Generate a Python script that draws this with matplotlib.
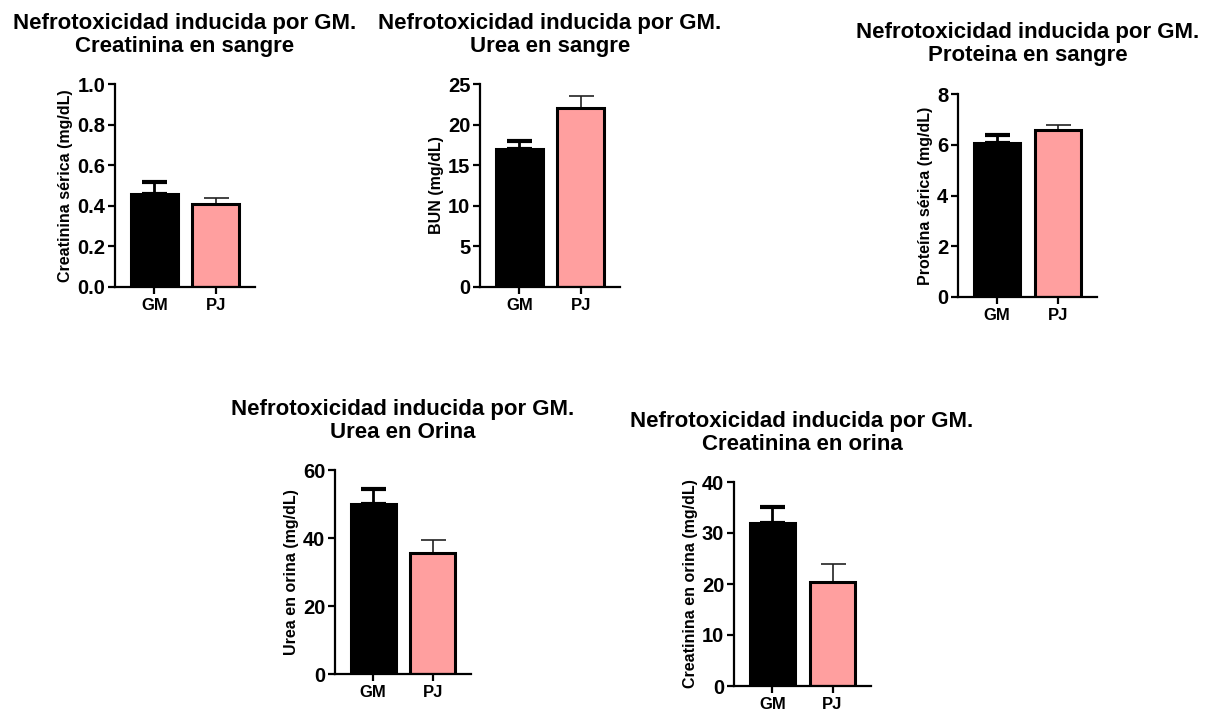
import matplotlib.pyplot as plt
import numpy as np

plt.rcParams['font.family'] = ['Liberation Sans', 'DejaVu Sans']
plt.rcParams['font.weight'] = 'bold'

groups = ['GM', 'PJ']

creat_sangre = [0.46, 0.41]
creat_sangre_err = [0.055, 0.03]

urea_sangre = [17.0, 22.1]
urea_sangre_err = [1.0, 1.4]

prot_sangre = [6.07, 6.57]
prot_sangre_err = [0.30, 0.20]

urea_orina = [50.0, 35.5]
urea_orina_err = [4.5, 4.0]

creat_orina = [32.0, 20.4]
creat_orina_err = [3.1, 3.6]

W, H = 1205, 711
fig = plt.figure(figsize=(W / 100, H / 100), dpi=100)


def px_axes(l, t, r, b):
    return fig.add_axes([l / W, 1 - b / H, (r - l) / W, (b - t) / H])


def title(cx, cy, text):
    fig.text(cx / W, 1 - cy / H, text, ha='center', va='center',
             fontsize=16, fontweight='bold', linespacing=1.1)


def panel(ax, vals, errs, ylabel, yticks, fmt):
    x = np.arange(len(groups))
    colors = ['black', '#ff9f9f']
    ax.bar(x, vals, width=0.76, color=colors, edgecolor='black',
           linewidth=2.2, zorder=2)
    # only the upper half of the error bars, like GraphPad
    ax.errorbar(x[0], vals[0], yerr=[[0], [errs[0]]], fmt='none',
                ecolor='black', elinewidth=2, capsize=9, capthick=3, zorder=1)
    ax.errorbar(x[1], vals[1], yerr=[[0], [errs[1]]], fmt='none',
                ecolor='#222222', elinewidth=1.2, capsize=9, capthick=1.2, zorder=1)
    ax.set_xlim(-0.64, 1.64)
    ax.set_ylim(yticks[0], yticks[-1])
    ax.set_yticks(yticks)
    ax.set_yticklabels([fmt.format(v) for v in yticks], fontsize=14.5, fontweight='bold')
    ax.set_xticks(x)
    ax.set_xticklabels(groups, fontsize=12, fontweight='bold')
    ax.set_ylabel(ylabel, fontsize=11.5, fontweight='bold', labelpad=3)
    for s in ['top', 'right']:
        ax.spines[s].set_visible(False)
    for s in ['left', 'bottom']:
        ax.spines[s].set_linewidth(1.6)
    ax.tick_params(width=1.6, length=5, direction='out', pad=2)
    ax.tick_params(axis='x', pad=3)


ax1 = px_axes(115, 84, 255, 287)
panel(ax1, creat_sangre, creat_sangre_err, 'Creatinina sérica (mg/dL)',
      [0, 0.2, 0.4, 0.6, 0.8, 1.0], '{:.1f}')
title(185, 35, 'Nefrotoxicidad inducida por GM.\nCreatinina en sangre')

ax2 = px_axes(480, 84, 620, 287)
panel(ax2, urea_sangre, urea_sangre_err, 'BUN (mg/dL)',
      [0, 5, 10, 15, 20, 25], '{:.0f}')
title(550, 35, 'Nefrotoxicidad inducida por GM.\nUrea en sangre')

ax3 = px_axes(958, 94, 1097, 297)
panel(ax3, prot_sangre, prot_sangre_err, 'Proteína sérica (mg/dL)',
      [0, 2, 4, 6, 8], '{:.0f}')
title(1028, 44, 'Nefrotoxicidad inducida por GM.\nProteina en sangre')

ax4 = px_axes(335, 470, 471, 674)
panel(ax4, urea_orina, urea_orina_err, 'Urea en orina (mg/dL)',
      [0, 20, 40, 60], '{:.0f}')
title(403, 421, 'Nefrotoxicidad inducida por GM.\nUrea en Orina')

ax5 = px_axes(734, 482, 871, 686)
panel(ax5, creat_orina, creat_orina_err, 'Creatinina en orina (mg/dL)',
      [0, 10, 20, 30, 40], '{:.0f}')
title(802, 433, 'Nefrotoxicidad inducida por GM.\nCreatinina en orina')

fig.savefig('out.png', dpi=100, facecolor='white')
